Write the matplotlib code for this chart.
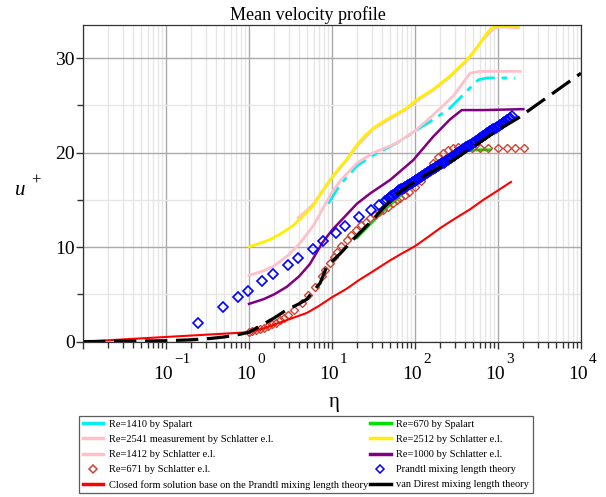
import matplotlib
matplotlib.use("Agg")
import matplotlib.pyplot as plt
from matplotlib import transforms
from matplotlib.lines import Line2D
from matplotlib.ticker import LogLocator, MultipleLocator, NullFormatter

plt.rcParams['font.family'] = ['Liberation Serif', 'DejaVu Serif']

# Re=1410 by Spalart (dash-dot, cyan)
spalart1410_x = [9, 12.5, 20, 31, 66, 105, 166, 263, 419, 580, 731, 1600]
spalart1410_y = [14.6, 16.6, 18.6, 19.7, 21.2, 22.4, 23.5, 24.7, 26.5, 27.7, 27.9, 27.9]

# Re=670 by Spalart
spalart670_x = [20, 40, 85, 150, 219, 300, 400, 600, 802]
spalart670_y = [11.0, 13.7, 16.3, 18.4, 19.4, 19.9, 20.2, 20.3, 20.3]

# Re=2541 measurement by Schlatter
meas2541_x = [3.9, 5.0, 6.0, 9.5, 15, 20, 31.5, 50, 79, 115, 166, 263, 419, 665, 880, 1057, 1758]
meas2541_y = [13.1, 13.9, 14.6, 17.1, 19.2, 20.7, 22.5, 23.6, 24.6, 25.7, 26.6, 28.0, 29.7, 32.0, 33.1, 33.3, 33.2]

# Re=2512 by Schlatter
re2512_x = [1, 1.3, 1.79, 2.5, 3.42, 4.5, 5.96, 7.5, 9.5, 12, 15, 19.8, 25, 31.5, 40, 50, 66, 79,
            105, 166, 263, 419, 550, 665, 780, 880, 1057, 1400, 1758]
re2512_y = [10.05, 10.35, 10.8, 11.5, 12.3, 13.3, 14.4, 15.8, 17.1, 18.3, 19.25, 20.8, 21.8, 22.6, 23.2,
            23.7, 24.3, 24.7, 25.6, 26.7, 28.1, 29.8, 31.0, 32.1, 32.9, 33.25, 33.4, 33.4, 33.3]

# Re=1412 by Schlatter
re1412_x = [1, 1.5, 2, 3, 4, 5, 6, 8, 10, 12.5, 20, 31, 60, 100, 166, 290, 460, 607, 1840]
re1412_y = [7.0, 7.5, 8.0, 9.2, 10.3, 11.4, 12.3, 14.3, 15.8, 17.0, 18.9, 19.95, 21.0, 22.3, 24.0, 26.0,
            28.4, 28.6, 28.6]

# Re=1000 by Schlatter
re1000_x = [1, 1.5, 2, 2.85, 4, 5.4, 7.7, 10, 12.5, 20, 29, 50, 95, 166, 263, 365, 665, 2020]
re1000_y = [4.0, 4.5, 5.0, 5.8, 6.9, 8.2, 10.5, 11.8, 12.7, 14.6, 15.7, 17.1, 19.2, 21.7, 23.5, 24.5,
            24.5, 24.6]

# Re=671 by Schlatter (markers)
re671_x = [1.0, 1.1, 1.2, 1.35, 1.5, 1.7, 1.9, 2.1, 2.35, 2.65, 2.95, 3.5, 4.3, 5.2, 6.3, 7.5, 8.3,
           9.4, 10.5, 11.5, 13, 15, 17, 19.7, 22.5, 25.7, 29, 33, 37, 41, 47, 54, 60, 66, 75, 85, 100,
           118, 140, 166, 190, 219, 250, 290, 330, 380, 482, 607, 764, 1010, 1273, 1603, 2056]
re671_y = [1.0, 1.1, 1.2, 1.35, 1.5, 1.65, 1.85, 2.0, 2.25, 2.5, 2.8, 3.4, 4.1, 4.9, 5.8, 7.0, 7.6,
           8.3, 9.0, 9.5, 10.1, 10.8, 11.3, 11.8, 12.3, 12.7, 13.1, 13.4, 13.7, 13.95, 14.3, 14.65,
           14.95, 15.2, 15.5, 15.8, 16.4, 17.0, 17.8, 18.9, 19.5, 19.95, 20.3, 20.5, 20.55, 20.5,
           20.45, 20.45, 20.45, 20.45, 20.45, 20.45, 20.45]

# Prandtl mixing length theory (markers)
prandtl_x = [0.245, 0.48, 0.73, 0.98, 1.45, 1.93, 2.92, 3.86, 5.85, 7.72, 11.1, 14.5, 21, 29.5, 37.3,
             44, 46, 48, 50, 52, 54.5, 57, 59.5, 62, 64.5, 67, 70, 73, 76.5, 80, 83.5, 87, 91, 95, 99,
             103, 107.5, 112, 117, 122, 127.5, 133, 139, 145, 151.5, 158, 165, 172, 179.5, 187, 195.5,
             204, 212, 221, 230, 239, 248, 258, 269, 279, 291, 302, 314, 327, 340, 354, 368, 383, 398,
             414, 431, 448, 466, 484, 504, 524, 545, 567, 589, 613, 637, 663, 689, 717, 746, 775, 806,
             839, 872, 907, 944, 981, 1021, 1061, 1104, 1148, 1194, 1242, 1291, 1343, 1397, 1460]
prandtl_y = [1.95, 3.68, 4.7, 5.4, 6.43, 7.17, 8.16, 8.87, 9.85, 10.6, 11.48, 12.2, 13.2, 13.95, 14.5,
             14.9, 15.0, 15.15, 15.25, 15.4, 15.5, 15.65, 15.75, 15.9, 16.0, 16.1, 16.2, 16.3, 16.4,
             16.5, 16.6, 16.7, 16.8, 16.9, 17.0, 17.1, 17.2, 17.3, 17.4, 17.5, 17.6, 17.7, 17.8,
             17.95, 18.05, 18.15, 18.25, 18.35, 18.45, 18.55, 18.65,
             18.75, 18.85, 18.95, 19.05, 19.15, 19.25, 19.35, 19.45, 19.55, 19.65, 19.75, 19.85, 19.95,
             20.05, 20.15, 20.25, 20.35, 20.45, 20.55, 20.65, 20.75, 20.85, 20.95, 21.05, 21.15, 21.25,
             21.35, 21.45, 21.55, 21.65, 21.75, 21.85, 21.95, 22.05, 22.15, 22.25, 22.35, 22.45, 22.55,
             22.65, 22.75, 22.85, 22.95, 23.05, 23.15, 23.25, 23.35, 23.45, 23.55, 23.7, 23.85]

# closed form solution (Prandtl)
closed_x = [0.01, 1.0, 1.5, 2, 3, 5, 7, 10, 15, 21, 30, 50, 70, 100, 150, 200, 300, 460, 665, 1000, 1435]
closed_y = [0.0, 1.0, 1.4, 1.8, 2.35, 3.05, 3.8, 4.7, 5.6, 6.5, 7.35, 8.6, 9.35, 10.1, 11.2, 12.0, 13.0,
            14.0, 15.0, 16.0, 16.9]

# van Driest mixing length theory
vandriest_x = [0.01, 0.1, 0.2, 0.34, 0.5, 0.7, 1.0, 1.24, 2.0, 2.84, 4.0, 5.0, 5.5, 7.2, 8.6, 10,
               12.5, 18, 31, 41, 60, 115, 300, 1000, 1710, 10000]
vandriest_y = [0.01, 0.1, 0.2, 0.34, 0.5, 0.7, 1.0, 1.45, 2.5, 3.36, 4.0, 4.5, 5.0, 6.2, 7.9, 8.5,
               9.3, 10.8, 12.9, 14.1, 15.6, 17.3, 19.3, 22.4, 23.6, 28.4]

tick_exponents = ['−1', '0', '1', '2', '3', '4']
tick_positions = [0.1, 1, 10, 100, 1000, 10000]

W, H = 606, 497
fig = plt.figure(figsize=(W / 100, H / 100), dpi=100)
ax = fig.add_axes([83 / W, 1 - 341.7 / H, 498 / W, (341.7 - 25) / H])

c_cyan = '#00f0f0'
c_pink = '#ffc0cb'
c_yellow = '#fff000'
c_purple = '#800080'
c_green = '#00e000'
c_red = '#ff0000'
c_diam = '#cc4433'
c_blue = '#0000ff'

l1, = ax.plot(spalart1410_x, spalart1410_y, color=c_cyan, lw=2, dashes=(7, 2.5, 2, 2.5))
l2, = ax.plot(spalart670_x, spalart670_y, color=c_green, lw=2)
l3, = ax.plot(meas2541_x, meas2541_y, color=c_pink, lw=2)
l4, = ax.plot(re2512_x, re2512_y, color=c_yellow, lw=2)
l5, = ax.plot(re1412_x, re1412_y, color=c_pink, lw=2)
l6, = ax.plot(re1000_x, re1000_y, color=c_purple, lw=1.8)
l7, = ax.plot(re671_x, re671_y, ls='none', marker='D', ms=4, mfc='none', mec=c_diam, mew=1)
l8, = ax.plot(prandtl_x, prandtl_y, ls='none', marker='D', ms=4.8, mfc='none', mec=c_blue, mew=1.2)
l9, = ax.plot(closed_x, closed_y, color=c_red, lw=1.5)
l10, = ax.plot(vandriest_x, vandriest_y, color='black', lw=2.3, dashes=(7, 2.7))

ax.set_xscale('log')
ax.set_xlim(0.01, 1e4)
ax.set_ylim(0, 33.5)
ax.xaxis.set_major_locator(LogLocator(base=10, numticks=10))
ax.xaxis.set_minor_locator(LogLocator(base=10, subs=range(2, 10), numticks=20))
ax.xaxis.set_major_formatter(NullFormatter())
ax.xaxis.set_minor_formatter(NullFormatter())
ax.yaxis.set_major_locator(MultipleLocator(10))
ax.yaxis.set_minor_locator(MultipleLocator(5))
ax.set_axisbelow(True)
ax.grid(which='major', color='#aaaaaa', lw=1)
ax.grid(which='minor', color='#e6e6e6', lw=1)
ax.tick_params(which='both', direction='out', color='#333333', width=1)
ax.tick_params(which='major', length=5, labelsize=14, pad=1)
ax.tick_params(which='minor', length=4)
for s in ax.spines.values():
    s.set_color('#333333')
    s.set_linewidth(0.9)

# Maple style 10^n tick labels
base_tr = ax.get_xaxis_transform()
for pos, ex in zip(tick_positions, tick_exponents):
    t1 = transforms.offset_copy(base_tr, fig=fig, x=-3, y=0, units='dots')
    ax.text(pos, -0.105, '10', transform=t1, ha='center', va='center', fontsize=14)
    t2 = transforms.offset_copy(base_tr, fig=fig, x=8, y=0, units='dots')
    ax.text(pos, -0.055, ex, transform=t2, ha='left', va='center', fontsize=11)

fig.text(308 / W, 1 - 15 / H, 'Mean velocity profile', ha='center', va='center', fontsize=13)
fig.text(334 / W, 1 - 403 / H, 'η', ha='center', va='center', fontsize=15)
fig.text(20 / W, 1 - 190 / H, 'u', ha='center', va='center', fontsize=15, style='italic')
fig.text(36 / W, 1 - 181 / H, '+', ha='center', va='center', fontsize=12)

handles = [l1, l3, l5, l7, l9, l2, l4, l6, l8, l10]
labels = ['Re=1410 by Spalart', 'Re=2541 measurement by Schlatter e.l.', 'Re=1412 by Schlatter e.l.',
          'Re=671 by Schlatter e.l.', 'Closed form solution base on the Prandtl mixing length theory',
          'Re=670 by Spalart', 'Re=2512 by Schlatter e.l.', 'Re=1000 by Schlatter e.l.',
          'Prandtl mixing length theory', 'van Direst mixing length theory']
leg_handles = []
for h in handles:
    if h.get_linestyle() == 'None':
        leg_handles.append(Line2D([], [], ls='none', marker='D', ms=4.5, mfc='none',
                                  mec=h.get_markeredgecolor(), mew=1.1))
    else:
        leg_handles.append(Line2D([], [], color=h.get_color(), lw=2.5))
leg = fig.legend(leg_handles, labels, ncol=2, loc='upper left', bbox_to_anchor=(79 / W, 1 - 416 / H),
                 fontsize=7.5, frameon=True, fancybox=False, edgecolor='#333333', handlelength=2,
                 handletextpad=0.5, columnspacing=0.2, labelspacing=0.56, borderpad=0.35,
                 borderaxespad=0)
leg.get_frame().set_linewidth(0.9)

fig.savefig('out.png', dpi=100)
